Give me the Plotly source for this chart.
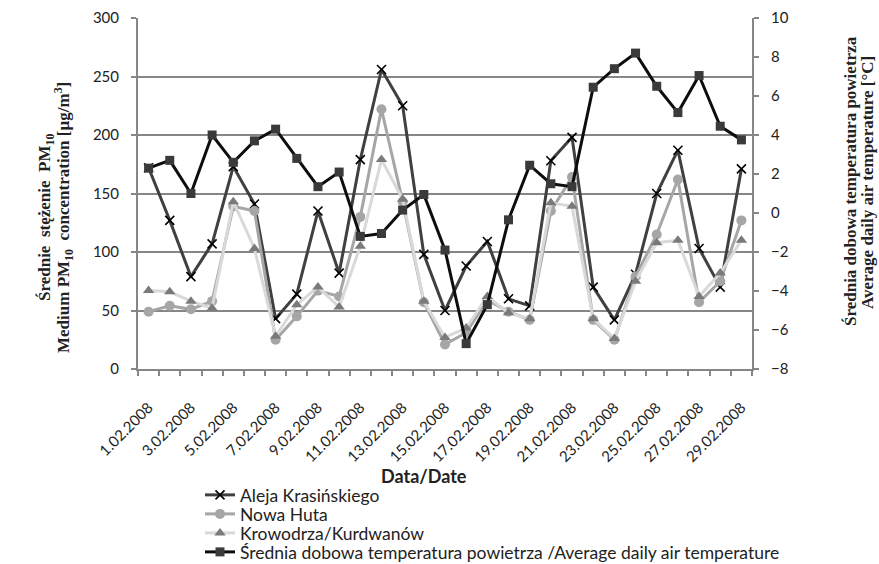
import plotly.graph_objects as go

dates = ["1.02.2008", "2.02.2008", "3.02.2008", "4.02.2008", "5.02.2008", "6.02.2008",
         "7.02.2008", "8.02.2008", "9.02.2008", "10.02.2008", "11.02.2008", "12.02.2008",
         "13.02.2008", "14.02.2008", "15.02.2008", "16.02.2008", "17.02.2008", "18.02.2008",
         "19.02.2008", "20.02.2008", "21.02.2008", "22.02.2008", "23.02.2008", "24.02.2008",
         "25.02.2008", "26.02.2008", "27.02.2008", "28.02.2008", "29.02.2008"]

aleja = [172, 127, 79, 107, 173, 141, 43, 64, 135, 82, 179, 256, 225, 98, 50,
         88, 109, 60, 54, 178, 198, 70, 42, 81, 150, 187, 103, 70, 171]
nowa_huta = [49, 54, 51, 58, 139, 135, 25, 45, 67, 62, 130, 222, 143, 57, 21,
             31, 59, 49, 42, 135, 164, 42, 25, 79, 115, 162, 57, 75, 127]
krowodrza = [67, 66, 58, 52, 143, 103, 28, 55, 70, 53, 105, 179, 145, 58, 27,
             35, 62, 48, 43, 142, 139, 43, 26, 75, 108, 110, 62, 82, 110]
temperature = [2.3, 2.7, 1.0, 4.0, 2.6, 3.7, 4.3, 2.8, 1.35, 2.1, -1.2, -1.05, 0.15, 0.95, -1.9,
               -6.7, -4.7, -0.35, 2.45, 1.5, 1.35, 6.45, 7.4, 8.2, 6.5, 5.15, 7.05, 4.45, 3.75]

names = ["Aleja Krasińskiego", "Nowa Huta", "Krowodrza/Kurdwanów",
         "Średnia dobowa temperatura powietrza /Average daily air temperature"]

x_idx = list(range(len(dates)))
GRID = "#868686"
FONT = "Lato"
TXT = "#222222"

fig = go.Figure()
fig.add_trace(go.Scatter(x=x_idx, y=aleja, name=names[0], mode="lines+markers",
                         legend="legend",
                         line=dict(color="#404040", width=3),
                         marker=dict(symbol="x-thin", size=9, color="black",
                                     line=dict(color="black", width=1.6))))
fig.add_trace(go.Scatter(x=x_idx, y=nowa_huta, name=names[1], mode="lines+markers",
                         legend="legend2",
                         line=dict(color="#a6a6a6", width=3),
                         marker=dict(symbol="circle", size=10, color="#a6a6a6")))
fig.add_trace(go.Scatter(x=x_idx, y=krowodrza, name=names[2], mode="lines+markers",
                         legend="legend3",
                         line=dict(color="#d9d9d9", width=3),
                         marker=dict(symbol="triangle-up", size=10, color="#7a7a7a")))
fig.add_trace(go.Scatter(x=x_idx, y=temperature, name=names[3], mode="lines+markers",
                         yaxis="y2", legend="legend4",
                         line=dict(color="#0d0d0d", width=3),
                         marker=dict(symbol="square", size=9, color="#3a3a3a")))

plot_left, plot_right, plot_top, plot_bottom = 138, 752, 18, 369
pw = plot_right - plot_left
ph = plot_bottom - plot_top


def px_x(px):
    return (px - plot_left) / pw


def px_y(px):
    return (plot_bottom - px) / ph


legend_rows_px = [495, 514, 533, 552]
legend_common = dict(x=px_x(200), xanchor="left", yanchor="middle",
                     font=dict(family=FONT, size=17.5, color=TXT),
                     itemwidth=30, bgcolor="rgba(0,0,0,0)", borderwidth=0)

fig.update_layout(
    width=879, height=564,
    margin=dict(l=plot_left, r=879 - plot_right, t=plot_top, b=564 - plot_bottom,
                autoexpand=False),
    paper_bgcolor="white", plot_bgcolor="white",
    font=dict(family=FONT, size=14, color=TXT),
    showlegend=True,
    legend=dict(y=px_y(legend_rows_px[0]), **legend_common),
    legend2=dict(y=px_y(legend_rows_px[1]), **legend_common),
    legend3=dict(y=px_y(legend_rows_px[2]), **legend_common),
    legend4=dict(y=px_y(legend_rows_px[3]), **legend_common),
    xaxis=dict(range=[-0.5, len(dates) - 0.5], tickmode="array",
               tickvals=x_idx[::2], ticktext=dates[::2], tickangle=-45,
               ticks="", ticklabelstandoff=22, showgrid=False, zeroline=False,
               showline=True, linecolor=GRID, linewidth=2,
               tickfont=dict(family=FONT, size=15, color=TXT),
               minor=dict(tickmode="array",
                          tickvals=[i - 0.5 for i in range(len(dates) + 1)],
                          ticks="outside", ticklen=5, tickcolor=GRID, tickwidth=1.5,
                          showgrid=False)),
    yaxis=dict(range=[0, 300], dtick=50, tickmode="linear", tick0=0,
               showgrid=True, gridcolor=GRID, gridwidth=1.5, zeroline=False,
               showline=True, linecolor=GRID, linewidth=2,
               ticks="outside", ticklen=5, tickcolor=GRID, tickwidth=1.5,
               ticklabelstandoff=9,
               tickfont=dict(family=FONT, size=15, color=TXT)),
    yaxis2=dict(range=[-8, 10], dtick=2, tickmode="linear", tick0=-8,
                overlaying="y", side="right", showgrid=False, zeroline=False,
                showline=True, linecolor=GRID, linewidth=2,
                ticks="outside", ticklen=5, tickcolor=GRID, tickwidth=1.5,
                ticklabelstandoff=9,
                tickfont=dict(family=FONT, size=15, color=TXT)),
    annotations=[
        dict(text="<b>Data/Date</b>", x=px_x(424), y=px_y(476), xref="paper", yref="paper",
             xanchor="center", yanchor="middle", showarrow=False,
             font=dict(family=FONT, size=18, color=TXT)),
        dict(text="<b>Średnie  stężenie  PM<sub>10</sub></b>",
             x=px_x(46), y=px_y(218), xref="paper", yref="paper", textangle=-90,
             xanchor="center", yanchor="middle", showarrow=False,
             font=dict(family="Liberation Serif", size=17, color=TXT)),
        dict(text="<b>Medium PM<sub>10</sub>  concentration [µg/m<sup>3</sup>]</b>",
             x=px_x(63), y=px_y(218), xref="paper", yref="paper", textangle=-90,
             xanchor="center", yanchor="middle", showarrow=False,
             font=dict(family="Liberation Serif", size=17, color=TXT)),
        dict(text="<b>Średnia dobowa temperatura powietrza</b>",
             x=px_x(850), y=px_y(181), xref="paper", yref="paper", textangle=-90,
             xanchor="center", yanchor="middle", showarrow=False,
             font=dict(family="Liberation Serif", size=17, color=TXT)),
        dict(text="<b>Average daily air temperature [°C]</b>",
             x=px_x(867), y=px_y(183), xref="paper", yref="paper", textangle=-90,
             xanchor="center", yanchor="middle", showarrow=False,
             font=dict(family="Liberation Serif", size=17, color=TXT)),
    ],
)

fig.write_html("out.html", config={"displayModeBar": False},
               post_script="document.body.style.margin='0px';")
